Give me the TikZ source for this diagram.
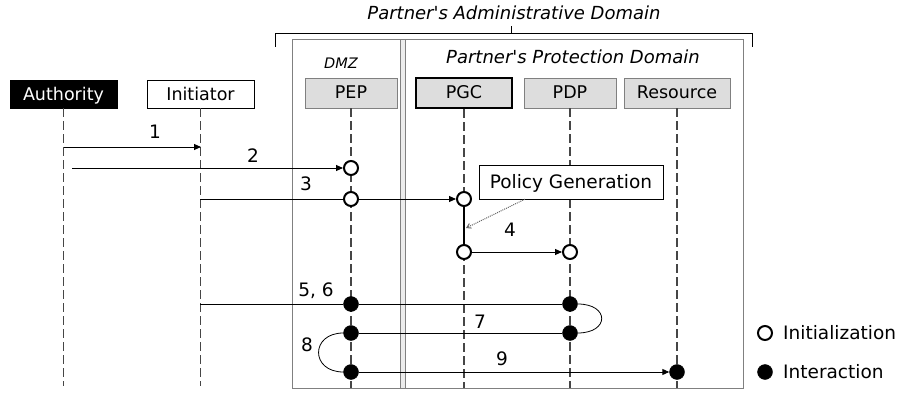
\documentclass[tikz,border=0pt]{standalone}
\usepackage{fontspec}
\setmainfont{DejaVu Sans}
\usetikzlibrary{arrows.meta,calc}
\definecolor{boxgray}{RGB}{221,221,221}
\definecolor{edgegray}{RGB}{128,128,128}
\definecolor{lifegray}{RGB}{70,70,70}
\begin{document}
\begin{tikzpicture}[x=1pt,y=-1pt,
  lbl/.style={font=\fontsize{17.5}{20}\selectfont},
  ilbl/.style={font=\fontsize{18}{21}\selectfont\itshape},
  actor/.style={draw=black, minimum width=107pt, minimum height=28pt, inner sep=0pt, text depth=1pt, lbl},
  comp/.style={draw=edgegray, fill=boxgray, minimum width=92pt, minimum height=30pt, inner sep=0pt, text depth=1pt, lbl},
  life/.style={draw=lifegray, line width=1.1pt, dash pattern=on 9pt off 4pt},
  initpt/.style={circle, draw=black, line width=2pt, fill=white, minimum size=14pt, inner sep=0pt},
  interpt/.style={circle, draw=black, fill=black, minimum size=15pt, inner sep=0pt},
  msg/.style={draw=black, line width=0.9pt},
  msgarr/.style={msg, -{Triangle[length=7pt,width=6pt]}},
  num/.style={font=\fontsize{18.5}{21}\selectfont, inner sep=0pt}
]
\useasboundingbox (0,0) rectangle (903,393);

% administrative domain bracket
\node[ilbl] (admtitle) at (514,13) {Partner\textquotesingle s Administrative Domain};
\coordinate (brL) at (275,47);
\coordinate (brLt) at (275,33);
\coordinate (brRt) at (752,33);
\coordinate (brR) at (752,47);
\coordinate (brC) at (511,33);
\coordinate (brCt) at (511,26);
\draw[line width=0.9pt] (brL) -- (brLt) -- (brRt) -- (brR);
\draw[line width=0.9pt] (brC) -- (brCt);

% partner frame
\coordinate (frTL) at (292,40);
\coordinate (frBR) at (743,388);
\draw[edgegray, line width=1pt] (frTL) rectangle (frBR);
\coordinate (sepT) at (403,40);
\coordinate (sepB) at (403,388);
\draw[edgegray, line width=0.9pt, double=white!85!gray, double distance=3.5pt] (sepT) -- (sepB);

\node[font=\fontsize{14.5}{17}\selectfont\itshape] (dmz) at (341,63) {DMZ};
\node[ilbl] (ppd) at (573,57) {Partner\textquotesingle s Protection Domain};

% participants
\node[actor, fill=black, text=white] (auth) at (63.5,94) {Authority};
\node[actor, fill=white] (init) at (200.5,94) {Initiator};
\node[comp] (pep) at (351,93) {PEP};
\node[comp, draw=black, line width=2.2pt, minimum width=96pt] (pgc) at (464,93) {PGC};
\node[comp] (pdp) at (570,93) {PDP};
\node[comp, minimum width=106pt] (res) at (677,93) {Resource};

% lifelines
\coordinate (botA) at (0,386);
\coordinate (botB) at (0,388);
\draw[life] (auth) -- (auth |- botA);
\draw[life] (init) -- (init |- botA);
\draw[life] (pep) -- (pep |- botB);
\draw[life] (pgc) -- (pgc |- botB);
\draw[life] (pdp) -- (pdp |- botB);
\draw[life] (res) -- (res |- botB);

% event points
\node[initpt] (pep2) at (351,168) {};
\node[initpt] (pep3) at (351,199) {};
\node[initpt] (pgc3) at (464,199) {};
\node[initpt] (pgc4) at (464,252) {};
\node[initpt] (pdp4) at (570,252) {};
\node[interpt] (pep5) at (351,304) {};
\node[interpt] (pdp5) at (570,304) {};
\node[interpt] (pep7) at (351,333) {};
\node[interpt] (pdp7) at (570,333) {};
\node[interpt] (pep9) at (351,372) {};
\node[interpt] (res9) at (677,372) {};

% messages
\coordinate (a1) at (64,147);
\coordinate (i1) at (201,147);
\draw[msgarr] (a1) -- (i1);
\node[num] (n1) at (155,132) {1};

\coordinate (a2) at (72,168);
\draw[msgarr] (a2) -- (pep2);
\node[num] (n2) at (253,156) {2};

\coordinate (i3) at (200,199);
\draw[msg] (i3) -- (pep3);
\draw[msgarr] (pep3) -- (pgc3);
\node[num] (n3) at (306,184) {3};

\draw[line width=2.4pt] (pgc3) -- (pgc4);
\draw[msgarr] (pgc4) -- (pdp4);
\node[num] (n4) at (510,230) {4};

\node[draw=black, fill=white, font=\fontsize{18.5}{21}\selectfont, minimum width=184pt, minimum height=34pt, inner sep=0pt, text depth=1pt] (pg) at (571,182) {Policy Generation};
\coordinate (pgt) at (466,228);
\draw[gray!80!black, densely dotted, line width=1pt, -{Straight Barb[length=4pt,width=5pt]}] ($(pg.south west)!0.25!(pg.south east)$) -- (pgt);

\coordinate (i5) at (200,304);
\draw[msg] (i5) -- (pep5);
\draw[msg] (pep5) -- (pdp5);
\node[num] (n56) at (316,291) {5, 6};

\draw[line width=0.8pt] (pdp5.east) .. controls +(32,0) and +(32,0) .. (pdp7.east);
\draw[msg] (pep7) -- (pdp7);
\node[num] (n7) at (480,322) {7};

\draw[line width=0.8pt] (pep7.west) .. controls +(-33,0) and +(-33,0) .. (pep9.west);
\node[num] (n8) at (307,345) {8};

\draw[msgarr] (pep9) -- (res9);
\node[num] (n9) at (502,359) {9};

% legend
\node[initpt] (lg1) at (765,333) {};
\node[font=\fontsize{18.5}{21}\selectfont, anchor=west, inner sep=0pt] (lg1t) at (783,333) {Initialization};
\node[interpt] (lg2) at (765,372) {};
\node[font=\fontsize{18.5}{21}\selectfont, anchor=west, inner sep=0pt] (lg2t) at (783,372) {Interaction};
\end{tikzpicture}
\end{document}
